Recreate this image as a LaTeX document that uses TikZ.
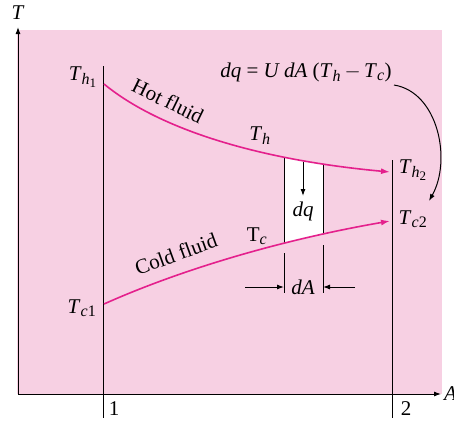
\documentclass[tikz,border=0pt]{standalone}
\usepackage{amsmath}
\usepackage{fontspec}
\setmainfont{Liberation Serif}
\DeclareMathSizes{21}{21}{16}{13}
\usetikzlibrary{arrows.meta}
\definecolor{bgpink}{RGB}{247,208,227}
\definecolor{curvepink}{RGB}{228,32,140}
\newcommand{\iv}[1]{\textit{#1}}
\newcommand{\rv}[1]{\textup{#1}}
\tikzset{
  lbl/.style={font=\fontsize{21}{24}\selectfont, inner sep=1pt},
  axis/.style={line width=1pt, -{Latex[length=7pt,width=5pt]}},
  thin/.style={line width=0.8pt},
  fluid/.style={curvepink, line width=1.6pt, -{Latex[length=9pt,width=6pt]}},
  blk/.style={line width=1pt, -{Latex[length=7pt,width=5pt]}}
}
\begin{document}
\begin{tikzpicture}[x=1pt,y=-1pt]
\useasboundingbox (0,0) rectangle (454,424);
\fill[bgpink] (17,30) rectangle (442,394);
% coordinates
\coordinate (O) at (18,394);
\coordinate (Ttop) at (18,27);
\coordinate (Aend) at (441,394);
\coordinate (h1) at (104,84);
\coordinate (h2) at (390,172);
\coordinate (c1) at (104,304);
\coordinate (c2) at (390,221);
% white column
\begin{scope}
\clip (h1) .. controls (160,130) and (260,160) .. (h2) -- (c2) .. controls (280,240) and (180,270) .. (c1) -- cycle;
\fill[white] (284,100) rectangle (323,300);
\draw[thin] (284,100) -- (284,300);
\draw[thin] (323,100) -- (323,300);
\end{scope}
\draw[thin] (284,253) -- (284,293);
\draw[thin] (323,245) -- (323,293);
% axes
\draw[axis] (O) -- (Ttop);
\draw[axis] (O) -- (Aend);
\node[lbl] (T) at (18,13) {\iv{T}};
\node[lbl, anchor=west] (A) at (443,394) {\iv{A}};
% station lines
\draw[thin] (103,66) -- (103,418);
\draw[thin] (392,160) -- (392,418);
\node[lbl] (n1) at (114,409) {1};
\node[lbl] (n2) at (406,409) {2};
% fluid curves
\draw[fluid] (h1) .. controls (160,130) and (260,160) .. (h2);
\draw[fluid] (c1) .. controls (180,270) and (280,240) .. (c2);
% labels
\node[lbl] (Th1) at (83,77) {\iv{T}$_{\iv{h}_{\rv{1}}}$};
\node[lbl] (Th2) at (413,170) {\iv{T}$_{\iv{h}_{\rv{2}}}$};
\node[lbl] (Tc2) at (413,219) {\iv{T}$_{\iv{c}\rv{2}}$};
\node[lbl] (Tc1) at (82,308) {\iv{T}$_{\iv{c}\rv{1}}$};
\node[lbl, rotate=-26] (hot) at (168,101) {Hot fluid};
\node[lbl] (Th) at (260,136) {\iv{T}$_{\iv{h}}$};
\node[lbl, rotate=20] (cold) at (176,254) {Cold fluid};
\node[lbl] (Tc) at (257,236) {T$_{\iv{c}}$};
\node[lbl] (eq) at (306,72) {\iv{dq} = \iv{U dA} (\iv{T}$_{\iv{h}}$\,$-$\,\iv{T}$_{\iv{c}}$)};
\node[lbl] (dq) at (303,211) {\iv{dq}};
\node[lbl] (dA) at (303,287) {\iv{dA}};
% dq arrow
\coordinate (dqs) at (303,162);
\coordinate (dqe) at (303,196);
\draw[blk] (dqs) -- (dqe);
% dA arrows
\coordinate (la) at (245,287);
\coordinate (lb) at (284,287);
\coordinate (ra) at (355,287);
\coordinate (rb) at (323,287);
\draw[blk] (la) -- (lb);
\draw[blk] (ra) -- (rb);
% curved arrow
\coordinate (cs) at (394,85);
\coordinate (ce) at (429,201);
\draw[blk] (cs) .. controls (438,92) and (452,160) .. (ce);
\end{tikzpicture}
\end{document}
